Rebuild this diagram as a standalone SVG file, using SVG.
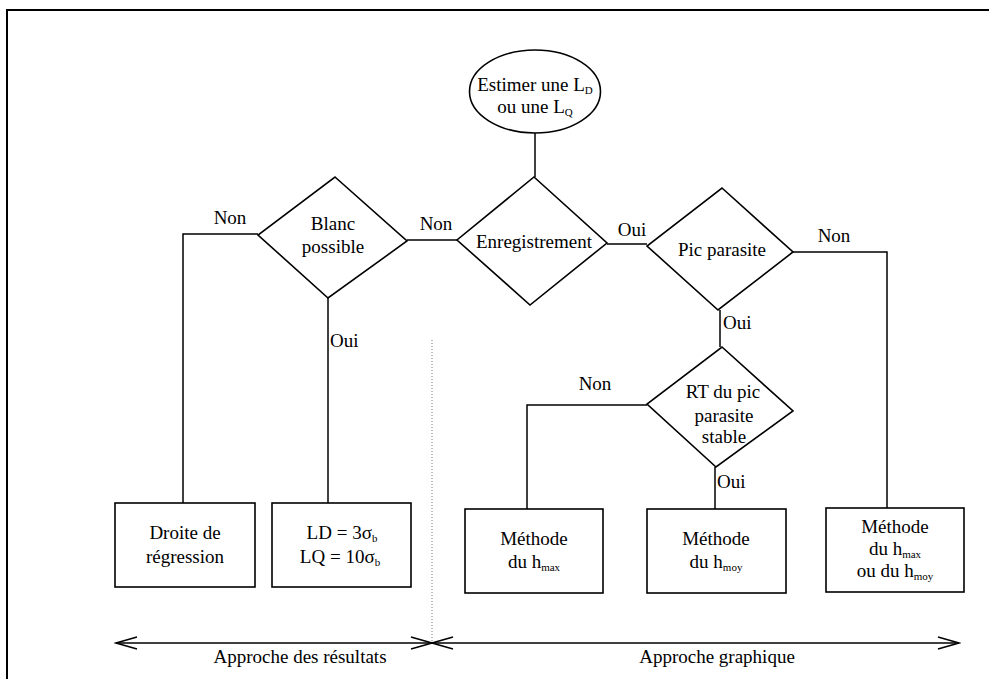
<svg xmlns="http://www.w3.org/2000/svg" width="989" height="679" viewBox="0 0 989 679">
<style>
  text { font-family: "Liberation Serif", "Times New Roman", serif; font-size: 19px; fill: #000; }
  .c { text-anchor: middle; }
  .sub { font-size: 11px; }
  .shape { fill: #fff; stroke: #000; stroke-width: 1.6; }
  .wire { fill: none; stroke: #000; stroke-width: 1.5; }
  .frame { fill: none; stroke: #000; stroke-width: 2; }
  .sep { fill: none; stroke: #777; stroke-width: 1; stroke-dasharray: 1 2; }
</style>
<defs>
  <marker id="openV" markerUnits="userSpaceOnUse" viewBox="0 0 24 14" refX="22" refY="7" markerWidth="24" markerHeight="14" orient="auto-start-reverse">
    <path d="M1,1 L22,7 L1,13" fill="none" stroke="#000" stroke-width="1.5"/>
  </marker>
</defs>
<rect width="989" height="679" fill="#fff"/>
<path class="frame" d="M7,679 V10 H989"/>

<g id="connectors">
  <path class="wire" d="M535,133 V177"/>
  <path class="wire" d="M457,240 H407"/>
  <path class="wire" d="M258,234 H183 V503"/>
  <path class="wire" d="M328,298 V503"/>
  <path class="wire" d="M607,244 H647"/>
  <path class="wire" d="M793,252 H887 V508"/>
  <path class="wire" d="M720,310 V347"/>
  <path class="wire" d="M647,405 H527 V509"/>
  <path class="wire" d="M715,467 V509"/>
  <path class="sep" d="M432,340 V642"/>
  <path class="wire" d="M116,643 H432" marker-start="url(#openV)" marker-end="url(#openV)"/>
  <path class="wire" d="M432,643 H959" marker-start="url(#openV)" marker-end="url(#openV)"/>
  <text class="c" x="436" y="230">Non</text>
  <text class="c" x="230" y="224">Non</text>
  <text x="330" y="347">Oui</text>
  <text class="c" x="632" y="236">Oui</text>
  <text class="c" x="834" y="242">Non</text>
  <text x="723" y="329">Oui</text>
  <text class="c" x="595" y="390">Non</text>
  <text x="717" y="488">Oui</text>
  <text class="c" x="300" y="663">Approche des résultats</text>
  <text class="c" x="717" y="663">Approche graphique</text>
</g>

<g id="start">
  <ellipse class="shape" cx="535" cy="91.5" rx="65.5" ry="41.5"/>
  <text class="c" x="535" y="91">Estimer une L<tspan class="sub" dy="3">D</tspan></text>
  <text class="c" x="535" y="113">ou une L<tspan class="sub" dy="3">Q</tspan></text>
</g>

<g id="enregistrement">
  <polygon class="shape" points="534,177 607,243 530,305 457,240"/>
  <text class="c" x="534" y="248">Enregistrement</text>
</g>

<g id="blanc">
  <polygon class="shape" points="335,177 407,241 328,298 258,235"/>
  <text class="c" x="333" y="230">Blanc</text>
  <text class="c" x="333" y="253">possible</text>
</g>

<g id="pic">
  <polygon class="shape" points="722,188 793,252 718,310 647,246"/>
  <text class="c" x="722" y="256">Pic parasite</text>
</g>

<g id="rt">
  <polygon class="shape" points="722,347 793,411 716,467 647,404"/>
  <text class="c" x="723" y="398">RT du pic</text>
  <text class="c" x="724" y="422">parasite</text>
  <text class="c" x="724" y="443">stable</text>
</g>

<g id="droite">
  <rect class="shape" x="115" y="503" width="140" height="84"/>
  <text class="c" x="185" y="539">Droite de</text>
  <text class="c" x="185" y="563">régression</text>
</g>

<g id="ldlq">
  <rect class="shape" x="272" y="503" width="139" height="84"/>
  <text class="c" x="342" y="539">LD = 3σ<tspan class="sub" dy="3">b</tspan></text>
  <text class="c" x="340" y="563">LQ = 10σ<tspan class="sub" dy="3">b</tspan></text>
</g>

<g id="hmax">
  <rect class="shape" x="465" y="509" width="138" height="84"/>
  <text class="c" x="534" y="545">Méthode</text>
  <text class="c" x="534" y="568">du h<tspan class="sub" dy="3">max</tspan></text>
</g>

<g id="hmoy">
  <rect class="shape" x="647" y="509" width="139" height="84"/>
  <text class="c" x="716" y="545">Méthode</text>
  <text class="c" x="716" y="568">du h<tspan class="sub" dy="3">moy</tspan></text>
</g>

<g id="hmaxmoy">
  <rect class="shape" x="826" y="508" width="138" height="84"/>
  <text class="c" x="895" y="533">Méthode</text>
  <text class="c" x="895" y="555">du h<tspan class="sub" dy="3">max</tspan></text>
  <text class="c" x="895" y="577">ou du h<tspan class="sub" dy="3">moy</tspan></text>
</g>
</svg>
